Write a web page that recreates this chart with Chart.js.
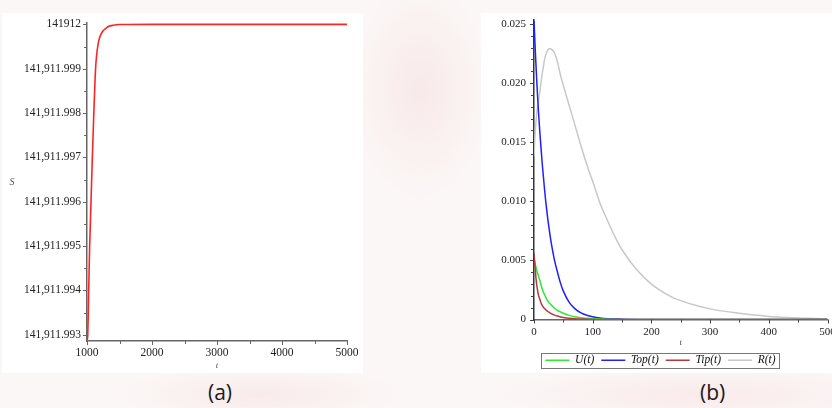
<!DOCTYPE html>
<html><head><meta charset="utf-8">
<script src="https://cdn.jsdelivr.net/npm/chart.js@4.4.1/dist/chart.umd.min.js"></script>
<style>
html,body{margin:0;padding:0;width:832px;height:408px;overflow:hidden;}
body{position:relative;
background:
 radial-gradient(ellipse 70px 110px at 420px 90px, rgba(246,222,222,0.55), rgba(246,222,222,0) ),
 radial-gradient(ellipse 140px 30px at 260px 395px, rgba(248,226,226,0.6), rgba(248,226,226,0) ),
 radial-gradient(ellipse 200px 30px at 700px 395px, rgba(250,228,230,0.7), rgba(250,228,230,0) ),
 #fbf7f6;}
.panel{position:absolute;background:#fff;}
#pa{left:2px;top:13px;width:361px;height:360px;}
#pb{left:481px;top:13px;width:351px;height:360px;}
#wb{position:absolute;left:481px;top:13px;width:359px;height:363px;}
.cap{position:absolute;font-family:"Open Sans","Liberation Sans",sans-serif;font-size:21px;color:#1a1a1a;top:380px;line-height:24px;}
</style></head>
<body>
<div class="panel" id="pa"><canvas id="ca" width="361" height="360"></canvas></div>
<div class="panel" id="pb"></div>
<div id="wb"><canvas id="cb" width="359" height="363"></canvas></div>
<div class="cap" style="left:208px;">(a)</div>
<div class="cap" style="left:700px;">(b)</div>
<script>
// ---------- panel (a) data ----------
const tA = [1000,1010,1026,1041,1062,1082,1105,1132,1148,1170,1190,1220,1251,1290,1328,1405,1500,2000,3000,4000,5000];
const sA = [141911.99288,141911.99295,141911.9940,141911.9950,141911.9960,141911.9970,141911.9980,141911.9990,141911.9993,141911.99955,141911.99968,141911.99979,141911.99986,141911.99991,141911.99995,141911.99998,141911.999995,141912,141912,141912,141912];
const xTicksA = [1000,2000,3000,4000,5000];
const xMinorA = [1500,2500,3500,4500];
const yTicksA = [141911.993,141911.994,141911.995,141911.996,141911.997,141911.998,141911.999,141912];
const yLabelsA = ['141,911.993','141,911.994','141,911.995','141,911.996','141,911.997','141,911.998','141,911.999','141912'];
const yMinorA = [141911.9935,141911.9945,141911.9955,141911.9965,141911.9975,141911.9985,141911.9995];
const yTitleA = 'S';
const xTitleA = 't';

// ---------- panel (b) data ----------
const tB   = [0,1,2,3,4,5,6,7,8,10,12,14,16,18,20,23,26,28,30,33,35,40,45,50,60,70,80,90,100,112,125,140,150,175,200,235,250,275,300,350,380,400,442,470,500];
const uB   = [0.0052,0.0050,0.0047,0.0045,0.0043,0.0041,0.0039,0.0038,0.0036,0.0033,0.0029,0.0026,0.0023,0.0021,0.0019,0.0016,0.0014,0.0013,0.0012,0.00105,0.00095,0.00078,0.00064,0.00053,0.00035,0.00023,0.00015,0.0001,0.00006,0.00004,0.00002,0.00001,0.00001,0,0,0,0,0,0,0,0,0,0,0,0];
const topB = [0.0253,0.0241,0.0230,0.0219,0.0209,0.0199,0.0190,0.0181,0.0173,0.0158,0.0145,0.0132,0.0121,0.0110,0.0100,0.0087,0.0076,0.0069,0.0063,0.0055,0.0050,0.0040,0.0031,0.0024,0.00145,0.0009,0.00056,0.00036,0.00023,0.00013,0.00007,0.00004,0.00003,0.00001,0,0,0,0,0,0,0,0,0,0,0];
const tipB = [0.0056,0.0049,0.0043,0.0037,0.0032,0.0028,0.0025,0.0022,0.0020,0.0017,0.0014,0.0012,0.00104,0.00093,0.00083,0.0007,0.0006,0.00054,0.00048,0.00041,0.00037,0.00029,0.00022,0.00017,0.0001,0.00006,0.00004,0.00002,0.00001,0,0,0,0,0,0,0,0,0,0,0,0,0,0,0,0];
const rB   = [0.0138,0.0149,0.0158,0.0165,0.0171,0.0176,0.0180,0.0183,0.0186,0.0193,0.0201,0.0208,0.0214,0.0220,0.0224,0.02275,0.0229,0.0229,0.02285,0.0227,0.02255,0.0218,0.0207,0.0198,0.0181,0.0164,0.0147,0.0131,0.0117,0.0099,0.0084,0.0068,0.0059,0.0042,0.0030,0.0019,0.0016,0.0012,0.0009,0.00052,0.00035,0.00026,0.00014,0.0001,0.00006];
const seriesNamesB = ['U(t)','Top(t)','Tip(t)','R(t)'];
const xTicksB = [0,100,200,300,400,500];
const xMinorB = [50,150,250,350,450];
const yTicksB = [0,0.005,0.010,0.015,0.020,0.025];
const yLabelsB = ['0','0.005','0.010','0.015','0.020','0.025'];
const yMinorB = [0.001,0.002,0.003,0.004,0.006,0.007,0.008,0.009,0.011,0.012,0.013,0.014,0.016,0.017,0.018,0.019,0.021,0.022,0.023,0.024];
const xTitleB = 't';

const SERIF = '"Liberation Serif","DejaVu Serif",serif';
const toXY = (xs, ys) => xs.map((x,i)=>({x:x, y:ys[i]}));

function ticksPlugin(xMaj, xMin, yMaj, yMin, color){
  return {
    id:'axisTicks',
    afterDraw(chart){
      const ctx = chart.ctx, xs = chart.scales.x, ys = chart.scales.y;
      const ax = xs.left, ay = ys.bottom;
      ctx.save(); ctx.strokeStyle = color; ctx.lineWidth = 1;
      const seg=(x1,y1,x2,y2)=>{ctx.beginPath();ctx.moveTo(x1,y1);ctx.lineTo(x2,y2);ctx.stroke();};
      xMaj.forEach(v=>{const p=Math.round(xs.getPixelForValue(v))+0.5; seg(p,ay,p,ay+4);});
      xMin.forEach(v=>{const p=Math.round(xs.getPixelForValue(v))+0.5; seg(p,ay,p,ay+3);});
      yMaj.forEach(v=>{const p=Math.round(ys.getPixelForValue(v))+0.5; seg(ax-4,p,ax,p);});
      yMin.forEach(v=>{const p=Math.round(ys.getPixelForValue(v))+0.5; seg(ax-3,p,ax,p);});
      ctx.restore();
    }
  };
}
function uprightYTitle(text, dx){
  return {
    id:'uprightYTitle',
    afterDraw(chart){
      const ctx = chart.ctx, ys = chart.scales.y;
      ctx.save();
      ctx.font = 'italic 10px '+SERIF; ctx.fillStyle = '#555';
      ctx.textAlign='center'; ctx.textBaseline='middle';
      ctx.fillText(text, ys.left + dx, (ys.top+ys.bottom)/2);
      ctx.restore();
    }
  };
}
const legendBox = {
  id:'legendBox',
  afterDraw(chart){
    const lg = chart.legend; if(!lg || !lg.legendHitBoxes || !lg.legendHitBoxes.length) return;
    const hb = lg.legendHitBoxes;
    let l=Infinity,r=-Infinity,t=Infinity,b=-Infinity;
    hb.forEach(h=>{l=Math.min(l,h.left);r=Math.max(r,h.left+h.width);t=Math.min(t,h.top);b=Math.max(b,h.top+h.height);});
    const ctx=chart.ctx; ctx.save(); ctx.strokeStyle='#777'; ctx.lineWidth=1;
    ctx.strokeRect(Math.round(l-4)+0.5, Math.round(t-2)+0.5, Math.round(r-l+8), Math.round(b-t+3));
    ctx.restore();
  }
};
const fixV = (w)=>(s)=>{s.width=w; s.paddingTop=0; s.paddingBottom=0;};
const fixH = (h)=>(s)=>{s.height=h; s.paddingLeft=0; s.paddingRight=0;};

// ---------- chart (a) ----------
new Chart(document.getElementById('ca'), {
  type:'line',
  data:{datasets:[{data:toXY(tA,sA), borderColor:'#ff2424', borderWidth:1.6, pointRadius:0, cubicInterpolationMode:'monotone', fill:false}]},
  options:{
    responsive:false, animation:false, events:[],
    layout:{padding:{left:0,right:16,top:10,bottom:0}},
    plugins:{legend:{display:false}, tooltip:{enabled:false}},
    scales:{
      x:{type:'linear', min:1000, max:5000,
        afterFit:fixH(32),
        afterBuildTicks:(s)=>{s.ticks = xTicksA.map(v=>({value:v}));},
        grid:{display:false, drawTicks:false}, border:{display:true,color:'#666',width:1.5},
        ticks:{autoSkip:false, maxRotation:0, padding:5, color:'#222', font:{family:SERIF,size:11.5}, callback:(v)=>String(v)},
        title:{display:true, text:xTitleA, color:'#555', font:{family:SERIF,size:9,style:'italic'}, padding:{top:0,bottom:2}}
      },
      y:{type:'linear', min:141911.99286, max:141912.00003,
        afterFit:fixV(85),
        afterBuildTicks:(s)=>{s.ticks = yTicksA.map(v=>({value:v}));},
        grid:{display:false, drawTicks:false}, border:{display:true,color:'#666',width:1.5},
        ticks:{autoSkip:false, padding:6, color:'#222', font:{family:SERIF,size:11.5}, callback:(v,i)=>yLabelsA[i]}
      }
    }
  },
  plugins:[ticksPlugin(xTicksA,xMinorA,yTicksA,yMinorA,'#666'), uprightYTitle(yTitleA, 10)]
});

// ---------- chart (b) ----------
const colorsB = ['#30e830','#2020ff','#b23a3a','#c8c8c8'];
const valsB = [uB, topB, tipB, rB];
new Chart(document.getElementById('cb'), {
  type:'line',
  data:{datasets: valsB.map((vals,i)=>({label:seriesNamesB[i], data:toXY(tB,vals), borderColor:colorsB[i], backgroundColor:colorsB[i], borderWidth:1.5, pointRadius:0, cubicInterpolationMode:'monotone', fill:false, order:[2,3,1,4][i]}))},
  options:{
    responsive:false, animation:false, events:[],
    layout:{padding:{left:0,right:0,top:7,bottom:0}},
    plugins:{
      tooltip:{enabled:false},
      legend:{display:true, position:'bottom', align:'center',
        labels:{usePointStyle:true, pointStyle:'line', pointStyleWidth:24, boxHeight:11.5, padding:7, color:'#111',
          font:{family:SERIF,size:11.5,style:'italic'},
          sort:(a,b)=>a.datasetIndex-b.datasetIndex}}
    },
    scales:{
      x:{type:'linear', min:0, max:500,
        afterFit:fixH(28),
        afterBuildTicks:(s)=>{s.ticks = xTicksB.map(v=>({value:v}));},
        grid:{display:false, drawTicks:false}, border:{display:true,color:'#666',width:1.5},
        ticks:{autoSkip:false, maxRotation:0, padding:6, color:'#222', font:{family:SERIF,size:11}, callback:(v)=>String(v)},
        title:{display:true, text:xTitleB, color:'#555', font:{family:SERIF,size:9,style:'italic'}, padding:{top:0,bottom:-1}}
      },
      y:{type:'linear', min:0, max:0.02534,
        afterFit:fixV(53),
        afterBuildTicks:(s)=>{s.ticks = yTicksB.map(v=>({value:v}));},
        grid:{display:false, drawTicks:false}, border:{display:true,color:'#333',width:1.5},
        ticks:{autoSkip:false, padding:8, color:'#222', font:{family:SERIF,size:11}, callback:(v,i)=>yLabelsB[i]}
      },
      yR:{type:'linear', position:'right', display:true,
        afterFit:fixV(12.5),
        grid:{display:false, drawTicks:false}, border:{display:false},
        ticks:{display:false}
      }
    }
  },
  plugins:[ticksPlugin(xTicksB,xMinorB,yTicksB,yMinorB,'#444'), legendBox]
});
</script>
</body></html>
